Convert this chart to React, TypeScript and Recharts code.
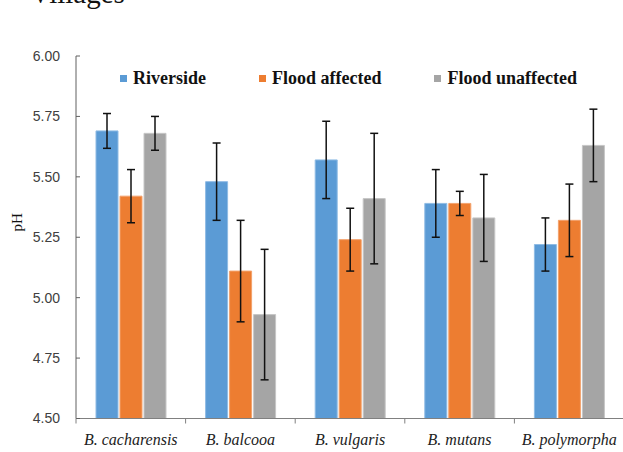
import React from 'react';
import { BarChart, Bar, XAxis, YAxis, ErrorBar, Legend } from 'recharts';

const categories = ['B. cacharensis', 'B. balcooa', 'B. vulgaris', 'B. mutans', 'B. polymorpha'];
const seriesNames = ['Riverside', 'Flood affected', 'Flood unaffected'];
const riverside = [5.69, 5.48, 5.57, 5.39, 5.22];
const riversideErr = [0.072, 0.16, 0.16, 0.14, 0.11];
const floodAffected = [5.42, 5.11, 5.24, 5.39, 5.32];
const floodAffectedErr = [0.11, 0.21, 0.13, 0.05, 0.15];
const floodUnaffected = [5.68, 4.93, 5.41, 5.33, 5.63];
const floodUnaffectedErr = [0.07, 0.27, 0.27, 0.18, 0.15];
const yTicks = [4.5, 4.75, 5.0, 5.25, 5.5, 5.75, 6.0];
const colors = ['#5B9BD5', '#ED7D31', '#A5A5A5'];
const strokes = ['#8fbbe4', '#f3a26c', '#c6c6c6'];

const data = categories.map((name, i) => ({
  name,
  riverside: riverside[i],
  riversideErr: riversideErr[i],
  floodAffected: floodAffected[i],
  floodAffectedErr: floodAffectedErr[i],
  floodUnaffected: floodUnaffected[i],
  floodUnaffectedErr: floodUnaffectedErr[i],
}));

const keys = [
  ['riverside', 'riversideErr'],
  ['floodAffected', 'floodAffectedErr'],
  ['floodUnaffected', 'floodUnaffectedErr'],
];

const SERIF = "'Liberation Serif', 'Times New Roman', serif";
const X_TICK_SIZE = 6;
const X_TICK_MARGIN = 9.5;

const LegendContent = () => (
  <div style={{ display: 'flex', alignItems: 'center', fontFamily: SERIF, fontWeight: 'bold', fontSize: 18, color: '#111', whiteSpace: 'nowrap' }}>
    {seriesNames.map((n, i) => (
      <div key={n} style={{ display: 'flex', alignItems: 'center', marginRight: i < seriesNames.length - 1 ? 53 : 0 }}>
        <span style={{ display: 'inline-block', width: 7, height: 7, background: colors[i], marginRight: 6 }} />
        <span style={{ fontFamily: SERIF }}>{n}</span>
      </div>
    ))}
  </div>
);

const XTick = (props: any) => {
  const { x, y, payload } = props;
  const axisY = y - X_TICK_SIZE - X_TICK_MARGIN;
  const half = payload && payload.offset ? payload.offset : 0;
  return (
    <g>
      <line x1={x - half} x2={x - half} y1={axisY} y2={axisY + 5} stroke="#808080" strokeWidth={1} />
      <text x={x} y={y} dy="0.71em" textAnchor="middle" fontFamily={SERIF} fontStyle="italic" fontSize={16} fill="#222">
        {payload.value}
      </text>
    </g>
  );
};

const PHLabel = (props: any) => {
  const vb = props.viewBox || {};
  const cx = vb.x + 17;
  const cy = vb.y + vb.height / 2 - 15;
  return (
    <text x={cx} y={cy} transform={`rotate(-90 ${cx} ${cy})`} textAnchor="middle" dominantBaseline="central" fontFamily={SERIF} fontSize={15} fill="#111">
      pH
    </text>
  );
};

export default function App() {
  return (
    <div style={{ position: 'absolute', left: 0, top: 0, width: 623, height: 452, overflow: 'hidden', background: '#fff' }}>
      <svg width={623} height={20} style={{ position: 'absolute', left: 0, top: 0 }}>
        <text x={30} y={3} fontFamily={SERIF} fontSize={29} fill="#111">Villages</text>
      </svg>
      <div style={{ position: 'absolute', left: 0, top: 0 }}>
        <BarChart width={624} height={452} data={data} margin={{ top: 56, right: 0, left: 0, bottom: 0 }} barSize={22} barGap={2}>
          <XAxis dataKey="name" type="category" height={33.5} interval={0} tickLine={false} tickSize={X_TICK_SIZE} tickMargin={X_TICK_MARGIN} axisLine={{ stroke: '#808080' }} tick={<XTick />} />
          <YAxis type="number" domain={[4.5, 6]} ticks={yTicks} width={76} tickFormatter={(v: number) => v.toFixed(2)} tickSize={-4} tickMargin={20} axisLine={{ stroke: '#606060' }} tickLine={{ stroke: '#606060' }} tick={{ fontFamily: "'Liberation Sans', sans-serif", fontSize: 14, fill: '#404040' }} label={<PHLabel />} allowDataOverflow />
          <Legend verticalAlign="middle" align="center" layout="horizontal" content={<LegendContent />} wrapperStyle={{ position: 'absolute', top: 68, left: 120, width: 'auto' }} />
          {keys.map(([k, e], i) => (
            <Bar key={k} dataKey={k} name={seriesNames[i]} fill={colors[i]} stroke={strokes[i]} strokeWidth={1} isAnimationActive={false}>
              <ErrorBar dataKey={e} width={4} stroke="#111" strokeWidth={1.5} direction="y" />
            </Bar>
          ))}
        </BarChart>
      </div>
    </div>
  );
}
